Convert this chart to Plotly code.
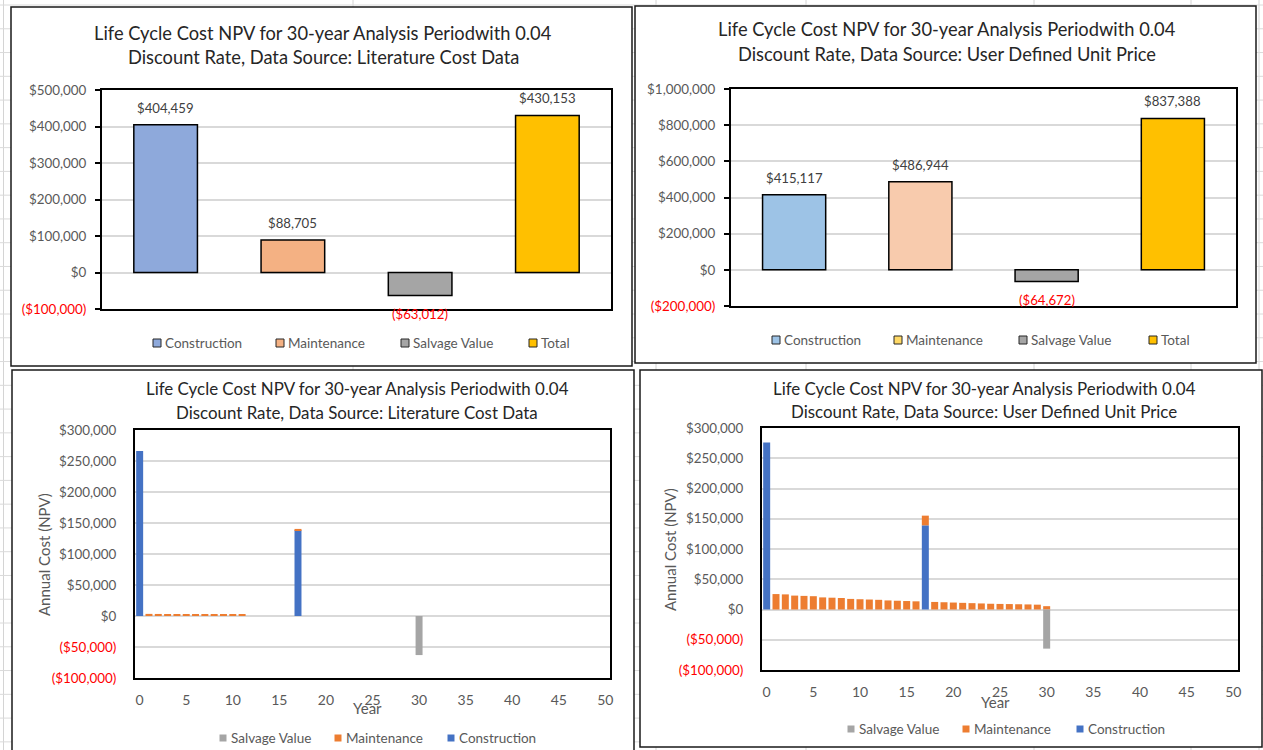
import plotly.graph_objects as go

W, H = 1263, 750
FONT = "Lato"
TXT = "#595959"
RED = "#FF0000"

# ---- Life-cycle cost summary (NPV) ----
summary_categories = ["Construction", "Maintenance", "Salvage Value", "Total"]
lit_summary = [404459, 88705, -63012, 430153]
user_summary = [415117, 486944, -64672, 837388]
lit_summary_colors = ["#8EA9DB", "#F4B183", "#A5A5A5", "#FFC000"]
user_summary_colors = ["#9DC3E6", "#F8CBAD", "#A5A5A5", "#FFC000"]
user_legend_colors = ["#9DC3E6", "#FFD966", "#A5A5A5", "#FFC000"]
lit_summary_ticks = [-100000, 0, 100000, 200000, 300000, 400000, 500000]
user_summary_ticks = [-200000, 0, 200000, 400000, 600000, 800000, 1000000]

# ---- Annual NPV by year ----
annual_ticks = [-100000, -50000, 0, 50000, 100000, 150000, 200000, 250000, 300000]
year_ticks = [0, 5, 10, 15, 20, 25, 30, 35, 40, 45, 50]

lit_construction_years = [0, 17]
lit_construction = [266000, 138459]
lit_maintenance_years = [1, 2, 3, 4, 5, 6, 7, 8, 9, 10, 11, 17]
lit_maintenance = [3400, 3300, 3200, 3100, 3000, 2900, 2800, 2700, 2600, 2500, 2400, 2000]
lit_salvage_years = [30]
lit_salvage = [-63012]

user_construction_years = [0, 17]
user_construction = [276000, 139117]
user_maintenance_years = list(range(1, 31))
user_maintenance = [25500, 25000, 23000, 22500, 22000, 20000, 19500, 19000,
                    17500, 17000, 16500, 16000, 15000, 14500, 14000, 13500,
                    16000, 12500, 12000, 11500, 11000, 10500, 10000, 9500,
                    9200, 9000, 8700, 8400, 8000, 5500]
user_salvage_years = [30]
user_salvage = [-64672]

ANNUAL_COLORS = {"Construction": "#4472C4", "Maintenance": "#ED7D31", "Salvage Value": "#A5A5A5"}

TITLE_1 = "Life Cycle Cost NPV for 30-year Analysis Periodwith 0.04"
TITLE_2_LIT = "Discount Rate, Data Source: Literature Cost Data"
TITLE_2_USER = "Discount Rate, Data Source: User Defined Unit Price"


def px(x):
    return x / W


def py(y):
    return 1 - y / H


def money(v):
    s = f"${abs(v):,.0f}"
    return f"({s})" if v < 0 else s


def tick_text(vals):
    return [f'<span style="color:{RED}">{money(v)}</span>' if v < 0 else money(v) for v in vals]


fig = go.Figure()

# summary bar charts
for axis_id, values, colors in [("", lit_summary, lit_summary_colors), ("2", user_summary, user_summary_colors)]:
    fig.add_trace(go.Bar(
        x=summary_categories, y=values, width=0.5,
        marker=dict(color=colors, line=dict(color="#000000", width=1.5)),
        xaxis="x" + axis_id, yaxis="y" + axis_id, showlegend=False,
        hovertemplate="%{x}: %{y:$,.0f}<extra></extra>",
    ))
    for cat, v in zip(summary_categories, values):
        fig.add_annotation(
            x=cat, y=v, xref="x" + axis_id, yref="y" + axis_id,
            text=money(v), showarrow=False, yshift=17 if v >= 0 else -18,
            font=dict(family=FONT, size=13.2, color=RED if v < 0 else "#404040"),
        )

# annual stacked bar charts
for axis_id, series in [
    ("3", [("Construction", lit_construction_years, lit_construction),
           ("Maintenance", lit_maintenance_years, lit_maintenance),
           ("Salvage Value", lit_salvage_years, lit_salvage)]),
    ("4", [("Construction", user_construction_years, user_construction),
           ("Maintenance", user_maintenance_years, user_maintenance),
           ("Salvage Value", user_salvage_years, user_salvage)]),
]:
    for name, yrs, vals in series:
        fig.add_trace(go.Bar(
            x=yrs, y=vals, name=name, width=0.75,
            marker=dict(color=ANNUAL_COLORS[name], line=dict(width=0)),
            xaxis="x" + axis_id, yaxis="y" + axis_id, showlegend=False,
            hovertemplate=name + " year %{x}: %{y:$,.0f}<extra></extra>",
        ))

frame = dict(showline=True, mirror=True, linecolor="#000000", linewidth=2, automargin=False)
grid = dict(showgrid=True, gridcolor="#D9D9D9", gridwidth=1.5, zeroline=False)
TICKFONT = dict(family=FONT, size=13.4, color=TXT)

layout = dict(
    width=W, height=H, margin=dict(l=0, r=0, t=0, b=0, pad=0, autoexpand=False),
    paper_bgcolor="#FFFFFF", plot_bgcolor="#FFFFFF",
    barmode="relative", showlegend=False,
    font=dict(family=FONT, color=TXT),
    xaxis=dict(domain=[px(102), px(611)], anchor="y", range=[-0.5, 3.5],
               showticklabels=False, ticks="", showgrid=False, zeroline=False, **frame),
    yaxis=dict(domain=[py(309), py(90)], anchor="x", range=[-100000, 500000],
               tickvals=lit_summary_ticks, ticktext=tick_text(lit_summary_ticks),
               ticks="outside", ticklen=5, tickcolor="#000000", tickwidth=1.5,
               ticklabelstandoff=6, tickfont=TICKFONT, **grid, **frame),
    xaxis2=dict(domain=[px(731), px(1236)], anchor="y2", range=[-0.5, 3.5],
                showticklabels=False, ticks="", showgrid=False, zeroline=False, **frame),
    yaxis2=dict(domain=[py(306), py(89)], anchor="x2", range=[-200000, 1000000],
                tickvals=user_summary_ticks, ticktext=tick_text(user_summary_ticks),
                ticks="outside", ticklen=5, tickcolor="#000000", tickwidth=1.5,
                ticklabelstandoff=6, tickfont=TICKFONT, **grid, **frame),
    xaxis3=dict(domain=[px(135), px(610)], anchor="y3", range=[-0.5, 50.5],
                tickvals=year_ticks, ticks="", ticklabelstandoff=8,
                tickfont=dict(family=FONT, size=14, color=TXT), showgrid=False, zeroline=False, **frame),
    yaxis3=dict(domain=[py(678), py(430)], anchor="x3", range=[-100000, 300000],
                tickvals=annual_ticks, ticktext=tick_text(annual_ticks), ticks="",
                ticklabelstandoff=14, tickfont=TICKFONT, **grid, **frame),
    xaxis4=dict(domain=[px(762), px(1238)], anchor="y4", range=[-0.5, 50.5],
                tickvals=year_ticks, ticks="", ticklabelstandoff=8,
                tickfont=dict(family=FONT, size=14, color=TXT), showgrid=False, zeroline=False, **frame),
    yaxis4=dict(domain=[py(670), py(428)], anchor="x4", range=[-100000, 300000],
                tickvals=annual_ticks, ticktext=tick_text(annual_ticks), ticks="",
                ticklabelstandoff=14, tickfont=TICKFONT, **grid, **frame),
)
fig.update_layout(**layout)

shapes = []
# worksheet cell grid behind the charts
for x in [3.5, 353, 656, 806, 1034, 1191, 1259]:
    shapes.append(dict(type="line", xref="paper", yref="paper", x0=px(x), x1=px(x), y0=0, y1=1,
                       line=dict(color="#D4D4D4", width=1), layer="below"))
y = 5.0
while y < H:
    shapes.append(dict(type="line", xref="paper", yref="paper", x0=0, x1=1, y0=py(y), y1=py(y),
                       line=dict(color="#DADADA", width=1), layer="below"))
    y += 23.77

# chart area frames
for x0, y0, x1, y1 in [(11, 7, 632, 366), (635, 6, 1256, 363), (12, 370, 634, 760), (640, 370, 1262, 747)]:
    shapes.append(dict(type="rect", xref="paper", yref="paper", x0=px(x0), x1=px(x1), y0=py(y1), y1=py(y0),
                       line=dict(color="#1A1A1A", width=1.5), fillcolor="#FFFFFF", layer="below"))


def legend(items, y, boxed, size):
    for (label, color, sx) in items:
        h = size / 2
        shapes.append(dict(type="rect", xref="paper", yref="paper",
                           x0=px(sx - h), x1=px(sx + h), y0=py(y + h), y1=py(y - h),
                           fillcolor=color, line=dict(color="#262626" if boxed else color, width=1 if boxed else 0)))
        fig.add_annotation(x=px(sx + h + 2), y=py(y), xref="paper", yref="paper", text=label,
                           xanchor="left", yanchor="middle", showarrow=False,
                           font=dict(family=FONT, size=13.5, color=TXT))


legend(list(zip(summary_categories, lit_summary_colors, [157, 280, 405, 533])), 343, True, 8)
legend(list(zip(summary_categories, user_legend_colors, [776, 898, 1023, 1153])), 340, True, 8)
annual_order = ["Salvage Value", "Maintenance", "Construction"]
legend([(n, ANNUAL_COLORS[n], sx) for n, sx in zip(annual_order, [223, 338, 451])], 738, False, 7)
legend([(n, ANNUAL_COLORS[n], sx) for n, sx in zip(annual_order, [851, 966, 1080])], 729, False, 7)

fig.update_layout(shapes=shapes)

# chart titles
for cx, y1, y2, l2, size in [(323, 33, 57, TITLE_2_LIT, 18.3), (947, 29, 54, TITLE_2_USER, 18.3),
                             (357, 388, 412, TITLE_2_LIT, 16.9), (984, 388, 411, TITLE_2_USER, 16.9)]:
    for yy, t in [(y1, TITLE_1), (y2, l2)]:
        fig.add_annotation(x=px(cx), y=py(yy), xref="paper", yref="paper", text=t, showarrow=False,
                           xanchor="center", yanchor="middle", font=dict(family=FONT, size=size, color="#262626"))

# axis titles of the annual charts
for cx, cy in [(367, 708), (995, 702)]:
    fig.add_annotation(x=px(cx), y=py(cy), xref="paper", yref="paper", text="Year", showarrow=False,
                       xanchor="center", yanchor="middle", font=dict(family=FONT, size=15, color=TXT))
for cx, cy in [(44, 555), (670, 550)]:
    fig.add_annotation(x=px(cx), y=py(cy), xref="paper", yref="paper", text="Annual Cost (NPV)",
                       showarrow=False, textangle=-90, xanchor="center", yanchor="middle",
                       font=dict(family=FONT, size=15, color=TXT))

fig.write_html("out.html")
